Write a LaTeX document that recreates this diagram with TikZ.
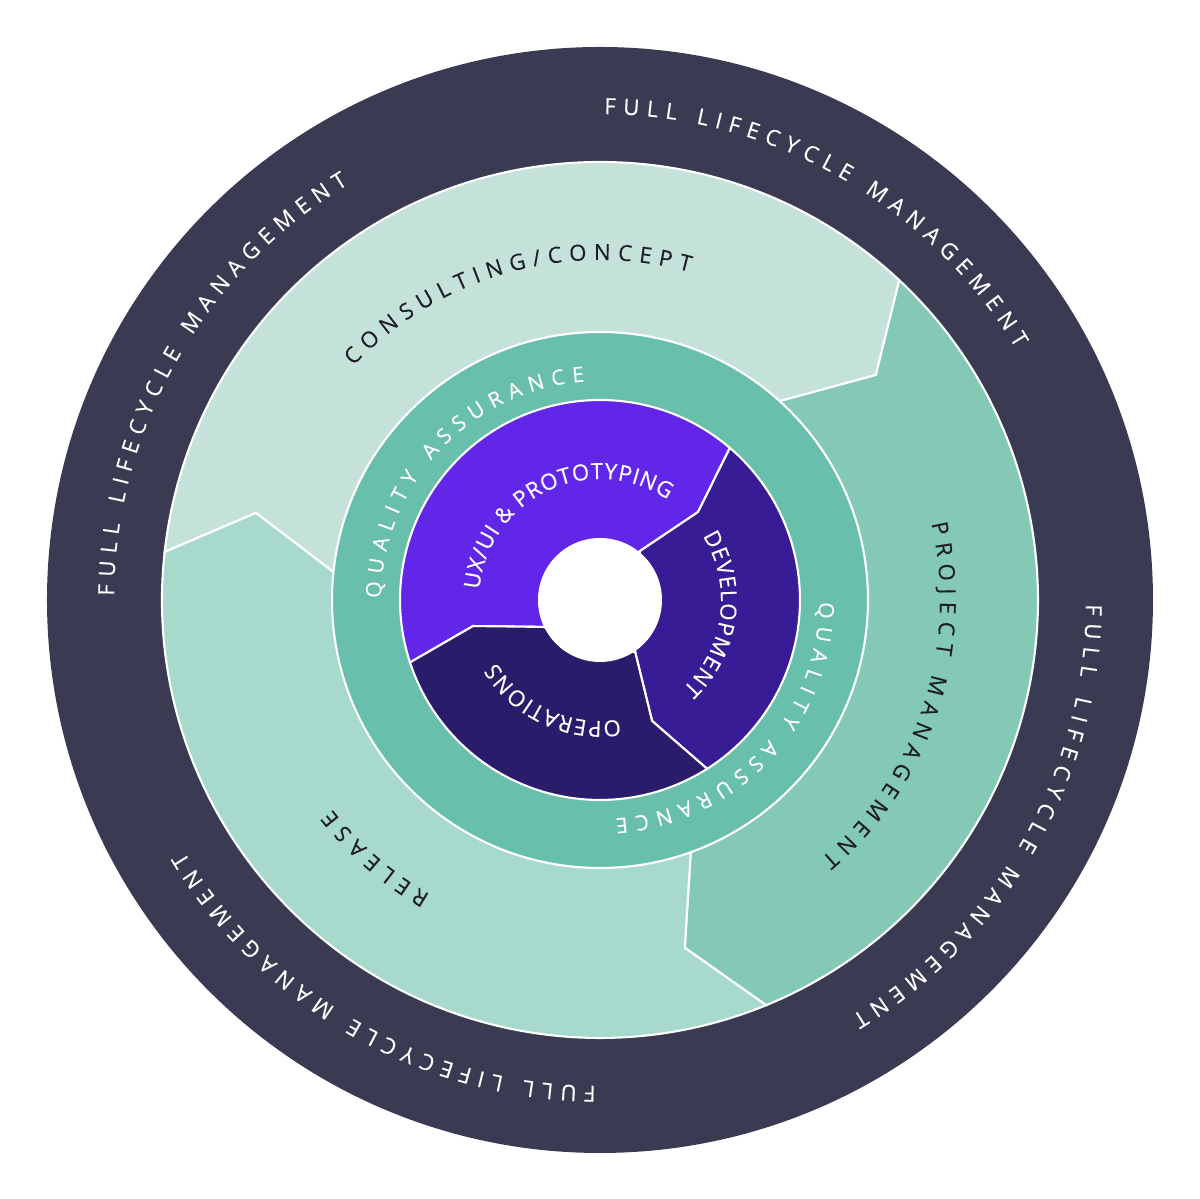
\documentclass[tikz,border=0pt]{standalone}
\usepackage{fontspec}
\setmainfont{Open Sans}
\newfontfamily\ringfont[FakeBold=0.15]{Open Sans}
\newfontfamily\corefont[FakeBold=0.3]{Open Sans}
\usetikzlibrary{decorations.text}

\definecolor{lifecycle}{HTML}{3A3A52}
\definecolor{consulting}{HTML}{C4E2DA}
\definecolor{project}{HTML}{83C9B6}
\definecolor{release}{HTML}{A7D9CD}
\definecolor{quality}{HTML}{68BFAB}
\definecolor{uxui}{HTML}{6226E8}
\definecolor{develop}{HTML}{371C95}
\definecolor{operate}{HTML}{2A1B6B}
\definecolor{labeltext}{HTML}{1E1E24}

\tikzset{
  ringpart/.style={fill=#1,draw=white,line width=0.6pt},
  ringlabel/.style n args={3}{decorate,decoration={text along path,text align=fit to path,text color=#1,
    text={|\ringfont\fontsize{#2}{8}\selectfont|#3}}},
  corelabel/.style={decorate,decoration={text along path,text align=fit to path,text color=white,
    text={|\corefont\fontsize{6.3}{8}\selectfont|#1}}}
}

\begin{document}
\begin{tikzpicture}
\useasboundingbox (-6,-5.99) rectangle (6,6);
% lifecycle ring
\fill[lifecycle] (0,0) circle (5.53);
% middle ring
\path[ringpart=consulting] (47.9:2.68) -- (39.2:3.56) -- (46.9:4.38) arc[start angle=46.9,end angle=173.7,radius=4.38] -- (165.8:3.55) -- (174:2.68) -- cycle;
\path[ringpart=project] (-70.2:2.68) -- (-76.3:3.58) -- (-67.7:4.38) arc[start angle=-67.7,end angle=46.9,radius=4.38] -- (39.2:3.56) -- (47.9:2.68) -- cycle;
\path[ringpart=release] (174:2.68) -- (165.8:3.55) -- (173.7:4.38) arc[start angle=173.7,end angle=292.3,radius=4.38] -- (-76.3:3.58) -- (-70.2:2.68) -- cycle;
% quality assurance ring
\path[ringpart=quality] (0,0) circle (2.68);
% inner ring
\path[ringpart=uxui] (50.8:0.63) -- (41.9:1.317) -- (49.5:2) arc[start angle=49.5,end angle=198.2,radius=2] -- (191.6:1.296) -- (205.3:0.63) -- cycle;
\path[ringpart=develop] (-56:0.63) -- (-66.7:1.317) -- (-57.6:2) arc[start angle=-57.6,end angle=49.5,radius=2] -- (41.9:1.317) -- (50.8:0.63) -- cycle;
\path[ringpart=operate] (205.3:0.63) -- (191.6:1.296) -- (198.2:2) arc[start angle=198.2,end angle=302.4,radius=2] -- (-66.7:1.317) -- (-56:0.63) -- cycle;
\fill[white] (0,0) circle (0.62);

% labels
\foreach \a in {90,0,-90,-180}
  \path[ringlabel={white}{6.3}{FULL LIFECYCLE MANAGEMENT}] ({\a-0.5}:4.86) arc[start angle=\a-0.5,end angle=\a-58.8,radius=4.86];
\path[ringlabel={labeltext}{6.3}{CONSULTING/CONCEPT}] (136.5:3.40) arc[start angle=136.5,end angle=74.7,radius=3.40];
\path[ringlabel={labeltext}{6.3}{PROJECT MANAGEMENT}] (13:3.40) arc[start angle=13,end angle=-49.5,radius=3.40];
\path[ringlabel={labeltext}{6.3}{RELEASE}] (240:3.40) arc[start angle=240,end angle=218,radius=3.40];
\path[ringlabel={white}{6}{QUALITY ASSURANCE}] (179.5:2.19) arc[start angle=179.5,end angle=94,radius=2.19];
\path[ringlabel={white}{6}{QUALITY ASSURANCE}] (-0.5:2.19) arc[start angle=-0.5,end angle=-86,radius=2.19];
\path[corelabel={UX/UI {\&} PROTOTYPING}] (175:1.21) arc[start angle=175,end angle=56,radius=1.21];
\path[corelabel={DEVELOPMENT}] (32:1.21) arc[start angle=32,end angle=-47,radius=1.21];
\path[corelabel={OPERATIONS}] (-80.5:1.21) arc[start angle=-80.5,end angle=-149,radius=1.21];
\end{tikzpicture}
\end{document}
